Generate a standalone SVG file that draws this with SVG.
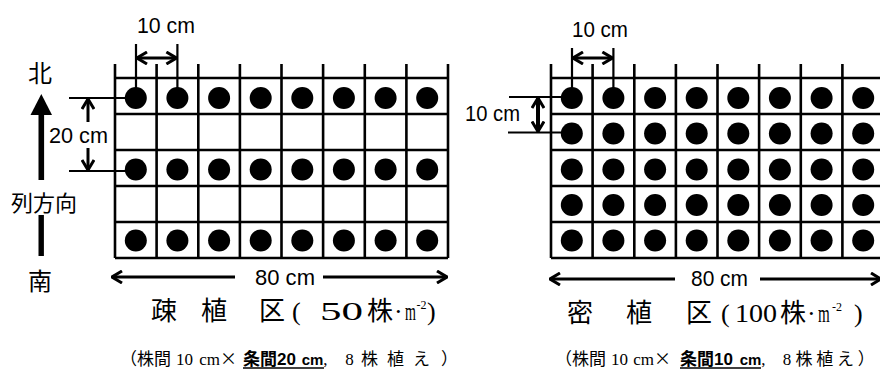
<svg xmlns="http://www.w3.org/2000/svg" width="880" height="371" viewBox="0 0 880 371">
<style>
.g{stroke:#000;stroke-width:2.6;fill:none}
.d{fill:#000}
.dim{stroke:#000;stroke-width:2.2;fill:none}
.arr{stroke:#000;stroke-width:3;fill:none}
.lbl{font-family:"Liberation Sans","DejaVu Sans",sans-serif;font-size:22px;fill:#000}
.jp{font-family:"Liberation Serif","Noto Sans CJK JP",serif;font-size:24px;fill:#000}
.cap{font-family:"Liberation Serif","Noto Sans CJK JP",serif;font-size:26px;fill:#000}
.sup{font-family:"Liberation Serif",serif;font-size:12px;fill:#000}
.note{font-family:"Liberation Serif","Noto Sans CJK JP",serif;font-size:17px;fill:#000}
.nb{font-family:"Liberation Sans","Noto Sans CJK JP",sans-serif;font-weight:bold}
.cjk{font-family:"Noto Sans CJK JP",sans-serif}
.ul{stroke:#000;stroke-width:1.5}
</style>
<defs>
<marker id="ah" viewBox="0 0 12 14" refX="11" refY="7" markerWidth="12" markerHeight="14" markerUnits="userSpaceOnUse" orient="auto-start-reverse">
<path d="M1,1 L11,7 L1,13" fill="none" stroke="#000" stroke-width="3"/>
</marker>
</defs>

<g id="left-plot">
<path class="g" d="M115,78H448M115,114H448M115,150H448M115,186H448M115,222H448M115,258H448"/>
<path class="g" d="M115,64V258M156.6,64V258M198.3,64V258M239.9,64V258M281.5,64V258M323.1,64V258M364.8,64V258M406.4,64V258M448,64V258"/>
<g class="d">
<circle cx="135.8" cy="98" r="11"/><circle cx="177.4" cy="98" r="11"/><circle cx="219.1" cy="98" r="11"/><circle cx="260.7" cy="98" r="11"/><circle cx="302.3" cy="98" r="11"/><circle cx="343.9" cy="98" r="11"/><circle cx="385.6" cy="98" r="11"/><circle cx="427.2" cy="98" r="11"/>
<circle cx="135.8" cy="169.5" r="11"/><circle cx="177.4" cy="169.5" r="11"/><circle cx="219.1" cy="169.5" r="11"/><circle cx="260.7" cy="169.5" r="11"/><circle cx="302.3" cy="169.5" r="11"/><circle cx="343.9" cy="169.5" r="11"/><circle cx="385.6" cy="169.5" r="11"/><circle cx="427.2" cy="169.5" r="11"/>
<circle cx="135.8" cy="240.5" r="11"/><circle cx="177.4" cy="240.5" r="11"/><circle cx="219.1" cy="240.5" r="11"/><circle cx="260.7" cy="240.5" r="11"/><circle cx="302.3" cy="240.5" r="11"/><circle cx="343.9" cy="240.5" r="11"/><circle cx="385.6" cy="240.5" r="11"/><circle cx="427.2" cy="240.5" r="11"/>
</g>
</g>

<g id="right-plot">
<path class="g" d="M551,78H884M551,114H884M551,150H884M551,186H884M551,222H884M551,258H884"/>
<path class="g" d="M551,64V258M592.6,64V258M634.3,64V258M675.9,64V258M717.5,64V258M759.1,64V258M800.8,64V258M842.4,64V258"/>
<g class="d">
<circle cx="571.8" cy="98" r="11"/><circle cx="613.4" cy="98" r="11"/><circle cx="655.1" cy="98" r="11"/><circle cx="696.7" cy="98" r="11"/><circle cx="738.3" cy="98" r="11"/><circle cx="779.9" cy="98" r="11"/><circle cx="821.6" cy="98" r="11"/><circle cx="863.2" cy="98" r="11"/>
<circle cx="571.8" cy="133.5" r="11"/><circle cx="613.4" cy="133.5" r="11"/><circle cx="655.1" cy="133.5" r="11"/><circle cx="696.7" cy="133.5" r="11"/><circle cx="738.3" cy="133.5" r="11"/><circle cx="779.9" cy="133.5" r="11"/><circle cx="821.6" cy="133.5" r="11"/><circle cx="863.2" cy="133.5" r="11"/>
<circle cx="571.8" cy="169.5" r="11"/><circle cx="613.4" cy="169.5" r="11"/><circle cx="655.1" cy="169.5" r="11"/><circle cx="696.7" cy="169.5" r="11"/><circle cx="738.3" cy="169.5" r="11"/><circle cx="779.9" cy="169.5" r="11"/><circle cx="821.6" cy="169.5" r="11"/><circle cx="863.2" cy="169.5" r="11"/>
<circle cx="571.8" cy="205" r="11"/><circle cx="613.4" cy="205" r="11"/><circle cx="655.1" cy="205" r="11"/><circle cx="696.7" cy="205" r="11"/><circle cx="738.3" cy="205" r="11"/><circle cx="779.9" cy="205" r="11"/><circle cx="821.6" cy="205" r="11"/><circle cx="863.2" cy="205" r="11"/>
<circle cx="571.8" cy="240.5" r="11"/><circle cx="613.4" cy="240.5" r="11"/><circle cx="655.1" cy="240.5" r="11"/><circle cx="696.7" cy="240.5" r="11"/><circle cx="738.3" cy="240.5" r="11"/><circle cx="779.9" cy="240.5" r="11"/><circle cx="821.6" cy="240.5" r="11"/><circle cx="863.2" cy="240.5" r="11"/>
</g>
</g>

<g id="north-arrow">
<polygon class="d" points="41.3,94 30.5,115 52,115"/>
<rect class="d" x="38.5" y="112" width="5.6" height="68"/>
<rect class="d" x="38.5" y="215" width="5.4" height="41"/>
</g>

<g id="connectors">
<path class="dim" d="M136,44V88M177.4,44V88"/>
<line class="arr" x1="137" y1="58" x2="176.4" y2="58" marker-start="url(#ah)" marker-end="url(#ah)"/>
<path class="dim" d="M572,48V88M613.4,48V88"/>
<line class="arr" x1="573" y1="58" x2="612.4" y2="58" marker-start="url(#ah)" marker-end="url(#ah)"/>
<path class="dim" d="M69,98H126M69,171H126"/>
<line class="arr" x1="88" y1="122" x2="88" y2="99" marker-end="url(#ah)"/>
<line class="arr" x1="88" y1="148" x2="88" y2="170" marker-end="url(#ah)"/>
<path class="dim" d="M509,97H562M508,132.5H562"/>
<line class="arr" style="stroke-width:4" x1="538" y1="98" x2="538" y2="131.5" marker-start="url(#ah)" marker-end="url(#ah)"/>
<line class="arr" x1="112" y1="277" x2="235" y2="277" marker-start="url(#ah)"/>
<line class="arr" x1="323" y1="277" x2="447" y2="277" marker-end="url(#ah)"/>
<line class="arr" x1="550" y1="279" x2="675" y2="279" marker-start="url(#ah)"/>
<line class="arr" x1="760" y1="279" x2="881" y2="279" marker-end="url(#ah)"/>
</g>

<g id="labels">
<text class="lbl" x="137" y="33" textLength="58" lengthAdjust="spacingAndGlyphs">10 cm</text>
<text class="lbl" x="572" y="37" textLength="56" lengthAdjust="spacingAndGlyphs">10 cm</text>
<text class="lbl" x="49" y="143" textLength="59" lengthAdjust="spacingAndGlyphs">20 cm</text>
<text class="lbl" x="465" y="121" textLength="55" lengthAdjust="spacingAndGlyphs">10 cm</text>
<text class="lbl" x="255" y="285" textLength="60" lengthAdjust="spacingAndGlyphs">80 cm</text>
<text class="lbl" x="691" y="286" textLength="57" lengthAdjust="spacingAndGlyphs">80 cm</text>
<text class="jp" x="28" y="82">北</text>
<text class="jp" x="11" y="211" style="font-size:22px">列方向</text>
<text class="jp" x="28" y="290">南</text>
</g>

<g id="caption-left">
<text class="cap" y="320"><tspan x="151">疎</tspan><tspan x="201">植</tspan><tspan x="259">区</tspan><tspan x="292">(</tspan><tspan x="320" textLength="43" lengthAdjust="spacingAndGlyphs">50</tspan><tspan x="367">株</tspan><tspan x="394">·</tspan></text>
<text class="cap" transform="translate(405 320) scale(0.54 1)">m</text>
<text class="sup" x="416.5" y="309">-2</text>
<text class="cap" x="427" y="320">)</text>
<text class="note" x="120" y="365"><tspan class="cjk">（</tspan>株間<tspan dx="5">10</tspan> <tspan dx="2">cm</tspan><tspan class="cjk">×</tspan><tspan class="nb" dx="6">条間20 </tspan><tspan class="nb" dx="1" style="font-size:15px">cm</tspan>, <tspan dx="13.5">8</tspan> <tspan dx="3" letter-spacing="9">株植え</tspan><tspan class="cjk" dx="2">）</tspan></text>
<line class="ul" x1="243" y1="368" x2="324" y2="368"/>
</g>

<g id="caption-right">
<text class="cap" y="322"><tspan x="567">密</tspan><tspan x="626">植</tspan><tspan x="686">区</tspan><tspan x="721">(</tspan><tspan x="735" textLength="42" lengthAdjust="spacingAndGlyphs">100</tspan><tspan x="780">株</tspan><tspan x="807">·</tspan></text>
<text class="cap" transform="translate(818 322) scale(0.58 1)">m</text>
<text class="sup" x="832" y="311">-2</text>
<text class="cap" x="854" y="322">)</text>
<text class="note" x="555" y="365"><tspan class="cjk">（</tspan>株間<tspan dx="5">10</tspan> <tspan dx="1">cm</tspan><tspan class="cjk">×</tspan><tspan class="nb" dx="9">条間10 </tspan><tspan class="nb" dx="2" style="font-size:15px">cm</tspan>, <tspan dx="13">8</tspan> <tspan letter-spacing="3.7">株植え</tspan><tspan class="cjk">）</tspan></text>
<line class="ul" x1="680" y1="368" x2="761" y2="368"/>
</g>
</svg>
